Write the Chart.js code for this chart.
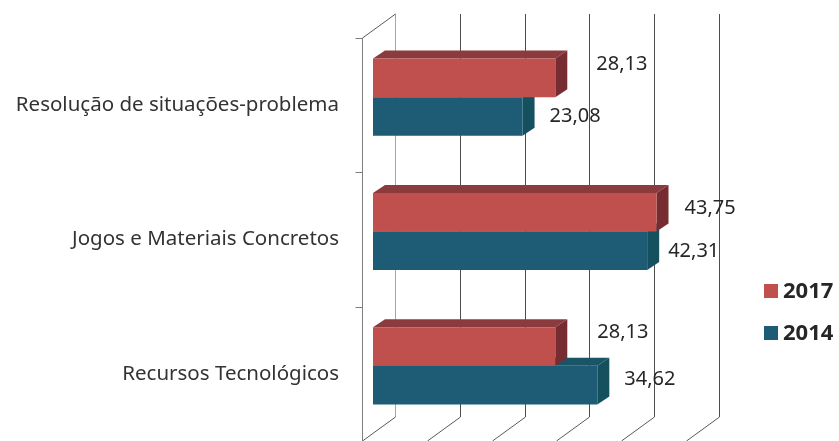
<!DOCTYPE html>
<html>
<head>
<meta charset="utf-8">
<script src="https://cdn.jsdelivr.net/npm/chart.js@4/dist/chart.umd.min.js"></script>
<style>
  html, body { margin: 0; padding: 0; background: #fff; }
  #wrap { width: 839px; height: 441px; }
</style>
</head>
<body>
<div id="wrap"><canvas id="c" width="839" height="441"></canvas></div>
<script>
// Categorias e valores (%) por ano
const categorias = ['Resolução de situações-problema', 'Jogos e Materiais Concretos', 'Recursos Tecnológicos'];
const anos = ['2017', '2014'];
const valores2017 = [28.13, 43.75, 28.13];
const valores2014 = [23.08, 42.31, 34.62];
const escalaMax = 50;
const escalaPasso = 10;

const FONT = '"Noto Sans", "Open Sans", sans-serif';

// Cores: frente, topo e lateral de cada série
const cores = [
  { front: '#c0504d', top: '#8b3b3e', side: '#772c31' },
  { front: '#1e5c75', top: '#1a5467', side: '#14505d' },
];

// Profundidade do efeito 3D (em px): barra, parede de fundo e plano da frente
const BAR_DX = 12, BAR_DY = 8;
const BACK_DX = 22, BACK_DY = 16;
const FRONT_DX = -11, FRONT_DY = 8;

// Deslocamento de cada rótulo em relação ao fim da barra [categoria][série]
const rotuloDx = [[41, 27], [28, 21], [42, 27]];
const rotuloDy = [[-14, 0], [-4, 0], [-14.5, -6]];

function fmtNum(v) { return v.toFixed(2).replace('.', ','); }

// Paredes: linhas de grade ao fundo, diagonais do chão, eixo à esquerda
const walls = { id: 'walls', beforeDatasetsDraw(chart) {
  const { ctx, chartArea: a, scales: { x } } = chart;
  ctx.save();
  ctx.lineWidth = 1;
  for (let v = 0; v <= escalaMax; v += escalaPasso) {
    const px = Math.round(x.getPixelForValue(v)) + 0.5;
    ctx.strokeStyle = v === 0 ? '#a6a6a6' : '#4d4d4d';
    ctx.beginPath();
    ctx.moveTo(px + BACK_DX, a.top - BACK_DY);
    ctx.lineTo(px + BACK_DX, a.bottom - BACK_DY);
    ctx.stroke();
    ctx.strokeStyle = '#595959';
    ctx.beginPath();
    ctx.moveTo(px + BACK_DX, a.bottom - BACK_DY);
    ctx.lineTo(px + FRONT_DX, a.bottom + FRONT_DY);
    ctx.stroke();
  }
  // eixo vertical da frente + diagonal do topo
  const x0 = Math.round(x.getPixelForValue(0)) + 0.5;
  ctx.strokeStyle = '#7f7f7f';
  ctx.beginPath();
  ctx.moveTo(x0 + FRONT_DX, a.bottom + FRONT_DY);
  ctx.lineTo(x0 + FRONT_DX, a.top + FRONT_DY);
  ctx.stroke();
  ctx.strokeStyle = '#595959';
  ctx.beginPath();
  ctx.moveTo(x0 + FRONT_DX, a.top + FRONT_DY);
  ctx.lineTo(x0 + BACK_DX, a.top - BACK_DY);
  ctx.stroke();
  // marcas de categoria
  ctx.strokeStyle = '#7f7f7f';
  const n = categorias.length;
  for (let i = 0; i <= n; i++) {
    const y = Math.round(a.top + (a.bottom - a.top) * i / n + FRONT_DY) + 0.5;
    ctx.beginPath();
    ctx.moveTo(x0 + FRONT_DX - 7, y);
    ctx.lineTo(x0 + FRONT_DX, y);
    ctx.stroke();
  }
  ctx.restore();
}};

// Topo e lateral das barras, desenhados antes das faces frontais
const barFaces = { id: 'barFaces', beforeDatasetsDraw(chart) {
  const { ctx } = chart;
  ctx.save();
  for (let i = chart.data.datasets.length - 1; i >= 0; i--) {
    const c = cores[i];
    chart.getDatasetMeta(i).data.forEach(bar => {
      const { x, y, base, height } = bar.getProps(['x', 'y', 'base', 'height'], true);
      const top = y - height / 2, bot = y + height / 2;
      ctx.fillStyle = c.top;
      ctx.beginPath();
      ctx.moveTo(base, top);
      ctx.lineTo(x, top);
      ctx.lineTo(x + BAR_DX, top - BAR_DY);
      ctx.lineTo(base + BAR_DX, top - BAR_DY);
      ctx.closePath();
      ctx.fill();
      ctx.fillStyle = c.side;
      ctx.beginPath();
      ctx.moveTo(x, top);
      ctx.lineTo(x + BAR_DX, top - BAR_DY);
      ctx.lineTo(x + BAR_DX, bot - BAR_DY);
      ctx.lineTo(x, bot);
      ctx.closePath();
      ctx.fill();
    });
  }
  ctx.restore();
}};

// Rótulos de valor à direita de cada barra
const valueLabels = { id: 'valueLabels', afterDatasetsDraw(chart) {
  const { ctx } = chart;
  ctx.save();
  ctx.font = '20px ' + FONT;
  ctx.fillStyle = '#262626';
  ctx.textAlign = 'left';
  ctx.textBaseline = 'middle';
  chart.data.datasets.forEach((ds, i) => {
    chart.getDatasetMeta(i).data.forEach((bar, j) => {
      ctx.fillText(fmtNum(ds.data[j]), bar.x + rotuloDx[j][i], bar.y + rotuloDy[j][i]);
    });
  });
  ctx.restore();
}};

// Legenda à direita
const sideLegend = { id: 'sideLegend', afterDraw(chart) {
  const { ctx } = chart;
  ctx.save();
  ctx.font = 'bold 22px ' + FONT;
  ctx.textAlign = 'left';
  ctx.textBaseline = 'middle';
  chart.data.datasets.forEach((ds, i) => {
    const cy = 291 + i * 42;
    ctx.fillStyle = ds.backgroundColor;
    ctx.fillRect(764, cy - 7, 14, 14);
    ctx.fillStyle = '#262626';
    ctx.fillText(ds.label, 783, cy + 1);
  });
  ctx.restore();
}};

new Chart(document.getElementById('c'), {
  type: 'bar',
  data: {
    labels: categorias,
    datasets: [
      { label: anos[0], data: valores2017, backgroundColor: cores[0].front },
      { label: anos[1], data: valores2014, backgroundColor: cores[1].front },
    ]
  },
  options: {
    indexAxis: 'y',
    responsive: false,
    animation: false,
    events: [],
    datasets: { bar: { categoryPercentage: 0.575, barPercentage: 1, borderWidth: 0 } },
    layout: { padding: { left: 0, top: 30, right: 142, bottom: 8 } },
    plugins: { legend: { display: false }, tooltip: { enabled: false } },
    scales: {
      x: { display: false, min: 0, max: escalaMax },
      y: {
        grid: { display: false, drawTicks: false },
        border: { display: false },
        // largura fixa e sem folga vertical extra dos rótulos
        afterFit: s => { s.width = 373; s.paddingTop = 0; s.paddingBottom = 0; },
        ticks: { padding: 34, labelOffset: 8, color: '#333333', font: { family: FONT, size: 20.5 } }
      }
    }
  },
  plugins: [walls, barFaces, valueLabels, sideLegend]
});
</script>
</body>
</html>
